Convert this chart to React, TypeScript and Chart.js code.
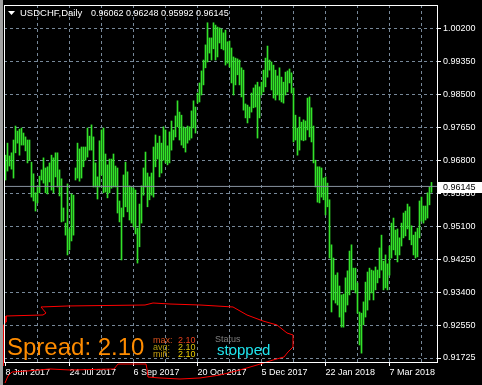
import { useEffect, useRef } from 'react';
import { Chart, registerables } from 'chart.js';

Chart.register(...registerables);

// ---- data ----
const symbolTitle = 'USDCHF,Daily';
const lastOpen = 0.96062;
const lastHigh = 0.96248;
const lastLow = 0.95992;
const lastClose = 0.96145;

// daily bar highs, oldest first (one per trading day)
const highs = [
  0.9695, 0.9726, 0.9693, 0.9701, 0.9734, 0.977, 0.9757, 0.9762, 0.9765, 0.9752,
  0.9742, 0.9734, 0.9734, 0.9677, 0.9647, 0.9598, 0.9616, 0.9641, 0.9657, 0.9688,
  0.9662, 0.9665, 0.9675, 0.9695, 0.9688, 0.9701, 0.9701, 0.9657, 0.9634, 0.9559,
  0.952, 0.9621, 0.9505, 0.9595, 0.9592, 0.9662, 0.9726, 0.9711, 0.9716, 0.9716,
  0.9716, 0.9765, 0.9744, 0.9773, 0.9742, 0.9675, 0.9639, 0.9732, 0.976, 0.9765,
  0.9698, 0.967, 0.9685, 0.9685, 0.9698, 0.9667, 0.9662, 0.9577, 0.9559, 0.9644,
  0.9677, 0.9652, 0.9616, 0.9613, 0.961, 0.9605, 0.9507, 0.9569, 0.9616, 0.9662,
  0.9703, 0.9649, 0.9639, 0.9649, 0.9716, 0.9747, 0.9726, 0.9744, 0.9726, 0.9768,
  0.976, 0.9719, 0.9755, 0.9783, 0.976, 0.9796, 0.9835, 0.9806, 0.9798, 0.9768,
  0.9765, 0.977, 0.9768, 0.9809, 0.9835, 0.9819, 0.9855, 0.9881, 0.9912, 0.994,
  0.9979, 1.0036, 0.9997, 0.9997, 1.0036, 1.003, 1.0025, 1.0023, 1.002, 1.001,
  1.0017, 0.9987, 0.9989, 0.9971, 0.9948, 0.9945, 0.9943, 0.994, 0.992, 0.9914,
  0.9827, 0.9824, 0.9819, 0.9855, 0.9868, 0.9876, 0.9883, 0.9871, 0.9883, 0.9914,
  0.9945, 0.9976, 0.994, 0.9935, 0.9927, 0.9914, 0.9899, 0.992, 0.9896, 0.9883,
  0.9909, 0.9912, 0.9917, 0.9907, 0.9868, 0.9798, 0.9765, 0.9793, 0.978, 0.9786,
  0.9783, 0.9842, 0.9845, 0.9817, 0.977, 0.9682, 0.9665, 0.9665, 0.9662, 0.9636,
  0.9639, 0.9623, 0.958, 0.9464, 0.943, 0.9386, 0.9392, 0.9358, 0.9335, 0.9337,
  0.9379, 0.9397, 0.9448, 0.9464, 0.9404, 0.9404, 0.9366, 0.9291, 0.9288, 0.9317,
  0.9368, 0.9394, 0.9404, 0.9399, 0.9397, 0.9407, 0.9399, 0.9456, 0.9489, 0.9422,
  0.9438, 0.9415, 0.9461, 0.952, 0.9533, 0.9502, 0.9505, 0.9482, 0.952, 0.9546,
  0.9551, 0.9569, 0.9562, 0.9513, 0.9489, 0.9497, 0.9507, 0.9577, 0.9587, 0.9564,
  0.9564, 0.9598, 0.9613, 0.96248,
];

// daily bar lows, oldest first
const lows = [
  0.9631, 0.9654, 0.9667, 0.9659, 0.9636, 0.9701, 0.9726, 0.9695, 0.9721, 0.9721,
  0.9706, 0.9675, 0.9682, 0.9587, 0.9577, 0.9551, 0.9572, 0.9598, 0.9631, 0.9623,
  0.9598, 0.9595, 0.9626, 0.9605, 0.9598, 0.9639, 0.9613, 0.959, 0.9523, 0.9525,
  0.9489, 0.9438, 0.9451, 0.9474, 0.9489, 0.9631, 0.9636, 0.9628, 0.9636, 0.9665,
  0.9682, 0.969, 0.9708, 0.9708, 0.9613, 0.9613, 0.9582, 0.9613, 0.9644, 0.9598,
  0.96, 0.9585, 0.9598, 0.961, 0.9613, 0.9613, 0.9546, 0.9523, 0.9425, 0.9536,
  0.9562, 0.9549, 0.9528, 0.952, 0.951, 0.9492, 0.9417, 0.9459, 0.952, 0.9592,
  0.9613, 0.9562, 0.958, 0.9592, 0.9587, 0.9665, 0.9685, 0.9639, 0.9649, 0.9682,
  0.9675, 0.967, 0.9675, 0.9708, 0.9734, 0.9742, 0.9768, 0.9734, 0.9721, 0.9714,
  0.9703, 0.9726, 0.9734, 0.9739, 0.9765, 0.9752, 0.9829, 0.9832, 0.985, 0.9876,
  0.992, 0.9935, 0.9958, 0.994, 0.9969, 0.994, 0.9948, 0.9984, 0.9969, 0.9966,
  0.9927, 0.9932, 0.9922, 0.9881, 0.985, 0.9876, 0.9902, 0.9876, 0.9845, 0.9811,
  0.9791, 0.9778, 0.9791, 0.9806, 0.9817, 0.9819, 0.9739, 0.9791, 0.985, 0.9858,
  0.9871, 0.9896, 0.9914, 0.9863, 0.9842, 0.9837, 0.985, 0.9837, 0.9832, 0.9829,
  0.985, 0.9858, 0.9881, 0.9855, 0.9729, 0.9734, 0.9695, 0.9708, 0.9734, 0.9732,
  0.9734, 0.976, 0.9742, 0.9729, 0.9675, 0.9613, 0.9574, 0.9572, 0.9587, 0.958,
  0.9541, 0.9562, 0.943, 0.9291, 0.9322, 0.9314, 0.9309, 0.9278, 0.9252, 0.9252,
  0.9291, 0.9309, 0.9335, 0.9348, 0.9348, 0.934, 0.9288, 0.9206, 0.9185, 0.9258,
  0.9278, 0.9296, 0.9322, 0.934, 0.9322, 0.9348, 0.9366, 0.9379, 0.9399, 0.9348,
  0.9353, 0.9348, 0.9386, 0.943, 0.9451, 0.9438, 0.942, 0.9438, 0.9461, 0.9482,
  0.9487, 0.9505, 0.9477, 0.9464, 0.9438, 0.943, 0.9433, 0.9482, 0.9525, 0.952,
  0.9528, 0.9533, 0.9567, 0.95992,
];

// price axis
const yTicks = [1.002, 0.9935, 0.985, 0.9765, 0.968, 0.9595, 0.951, 0.9425, 0.934, 0.9255, 0.91725];
const yMin = 0.91622;
const yMax = 1.00818;

// time axis (bar index of each grid line / label)
const xGridIndex = [0, 16, 32, 48, 64, 80, 96, 112, 128, 144, 160, 176, 192, 208];
const xLabelIndex = [0, 32, 64, 96, 128, 160, 192];
const xLabels = ['8 Jun 2017', '24 Jul 2017', '6 Sep 2017', '20 Oct 2017', '5 Dec 2017', '22 Jan 2018', '7 Mar 2018'];
const xMin = -0.75;
const xMax = 215.75;

// hand-drawn red outline (bar index, price)
const outlineX = [-0.25, 1.25, 3.25, 10.75, 22.25, 32.25, 54.25, 56.25, 70.25, 70.75, 71.25, 77.25, 87.25, 97.25, 107.25, 117.25, 125.75, 133.75, 139.25, 141.25, 143.75, 143.75, 140.75, 135.75, 128.75, 120.75, 113.75, 97.25, 82.25, 73.75, 69.75, 31.25, 17.75, 20.25, 18.75, 0.25, 0.25, -1.25, -1.25];
const outlineY = [0.91081, 0.91261, 0.91364, 0.9139, 0.91442, 0.91416, 0.91442, 0.9157, 0.9157, 0.91442, 0.91235, 0.9121, 0.91184, 0.9121, 0.91287, 0.91416, 0.91545, 0.91673, 0.91751, 0.9188, 0.92008, 0.92318, 0.92369, 0.92575, 0.92678, 0.92833, 0.93039, 0.9309, 0.93116, 0.93142, 0.9309, 0.93065, 0.93039, 0.92884, 0.92833, 0.92807, 0.92652, 0.92549, 0.91519];

// spread panel
const spreadValue = '2.10';
const spreadMax = '2.10';
const spreadAvg = '2.10';
const spreadMin = '2.10';
const spreadStatus = 'stopped';

const FONT = '"Liberation Sans", Arial, sans-serif';
const BAR_GREEN = '#33e22a';
const GRID = '#778899';

const mt4Plugin = {
  id: 'mt4',
  beforeDraw(chart: any) {
    const { ctx, width, height } = chart;
    ctx.save();
    ctx.fillStyle = '#000';
    ctx.fillRect(0, 0, width, height);
    ctx.restore();
  },
  afterDraw(chart: any) {
    const { ctx, chartArea } = chart;
    const { left, top, right, bottom } = chartArea;
    ctx.save();
    // window edge
    ctx.fillStyle = '#a0a0a0';
    ctx.fillRect(0, 0, 3, chart.height);
    // plot frame
    ctx.strokeStyle = '#ffffff';
    ctx.lineWidth = 1;
    ctx.strokeRect(left + 0.5, top + 0.5, right - left, bottom - top);

    // last price label
    const py = chart.scales.y.getPixelForValue(lastClose);
    ctx.fillStyle = '#ffffff';
    ctx.fillRect(right + 1, Math.round(py) - 4, chart.width - right - 1, 11);
    ctx.fillStyle = '#000000';
    ctx.font = `9px ${FONT}`;
    ctx.textBaseline = 'middle';
    ctx.textAlign = 'left';
    ctx.fillText(lastClose.toFixed(5), right + 6, Math.round(py) + 1.5);

    // title
    ctx.fillStyle = '#ffffff';
    ctx.beginPath();
    ctx.moveTo(8, 11);
    ctx.lineTo(15, 11);
    ctx.lineTo(11.5, 15);
    ctx.closePath();
    ctx.fill();
    ctx.textBaseline = 'alphabetic';
    ctx.font = `9.5px ${FONT}`;
    ctx.fillText(symbolTitle, 20, 16);
    ctx.font = `9px ${FONT}`;
    const ohlc = [lastOpen, lastHigh, lastLow, lastClose].map((v) => v.toFixed(5)).join(' ');
    ctx.fillText(ohlc, 91, 16);

    // spread panel
    ctx.font = `24px ${FONT}`;
    ctx.fillStyle = '#ff8c00';
    ctx.fillText(`Spread: ${spreadValue}`, 7, 355);

    ctx.font = `9px ${FONT}`;
    ctx.fillStyle = '#d8501c';
    ctx.fillText('max:', 153, 343);
    ctx.fillStyle = '#e8401c';
    ctx.fillText(spreadMax, 178, 343);
    ctx.fillStyle = '#b09a10';
    ctx.fillText('avg:', 153, 350);
    ctx.fillStyle = '#d8c010';
    ctx.fillText(spreadAvg, 178, 350);
    ctx.fillStyle = '#c8a010';
    ctx.fillText('min:', 153, 357);
    ctx.fillStyle = '#f0d000';
    ctx.fillText(spreadMin, 178, 357);

    ctx.fillStyle = '#808080';
    ctx.fillText('Status', 215, 342);
    ctx.font = `15px ${FONT}`;
    ctx.fillStyle = '#1ee6f0';
    ctx.fillText(spreadStatus, 217, 355);
    ctx.restore();
  },
};

export default function App() {
  const ref = useRef<HTMLCanvasElement>(null);

  useEffect(() => {
    document.body.style.margin = '0';
    document.body.style.background = '#000';
    const canvas = ref.current;
    if (!canvas) return;

    const bars = highs.map((h, i) => ({ x: i, y: [lows[i], h] }));
    const priceLine = [
      { x: xMin, y: lastClose },
      { x: xMax, y: lastClose },
    ];
    const outline = outlineX.map((x, i) => ({ x, y: outlineY[i] }));

    const chart = new Chart(canvas, {
      type: 'bar',
      data: {
        datasets: [
          {
            type: 'line',
            data: priceLine,
            borderColor: '#8893a0',
            borderWidth: 1,
            pointRadius: 0,
            tension: 0,
          } as any,
          {
            type: 'line',
            data: outline,
            borderColor: '#ff0000',
            borderWidth: 1,
            pointRadius: 0,
            tension: 0,
            clip: false,
          } as any,
          {
            type: 'bar',
            data: bars,
            backgroundColor: BAR_GREEN,
            borderWidth: 0,
            barThickness: 1,
          } as any,
        ],
      },
      options: {
        animation: false,
        responsive: false,
        devicePixelRatio: 1,
        events: [],
        layout: { padding: { left: 4, top: 5, right: 0, bottom: 0 } },
        plugins: { legend: { display: false }, tooltip: { enabled: false } },
        scales: {
          x: {
            type: 'linear',
            min: xMin,
            max: xMax,
            offset: false,
            afterBuildTicks: (s: any) => {
              s.ticks = xGridIndex.map((v) => ({ value: v }));
            },
            afterFit: (s: any) => {
              s.height = 23;
              s.paddingLeft = 0;
              s.paddingRight = 0;
            },
            grid: {
              offset: false,
              color: (c: any) => (c.tick && c.tick.value === 0 ? 'rgba(0,0,0,0)' : GRID),
              lineWidth: 1,
              drawTicks: true,
              tickLength: 4,
              tickColor: (c: any) =>
                c.tick && xLabelIndex.includes(c.tick.value) ? '#ffffff' : 'rgba(0,0,0,0)',
              borderDash: [3, 3],
            } as any,
            border: { display: false, dash: [3, 3] } as any,
            ticks: {
              autoSkip: false,
              maxRotation: 0,
              minRotation: 0,
              align: 'start',
              padding: 1,
              color: '#ffffff',
              font: { family: FONT, size: 9 },
              callback: (v: any) => {
                const k = xLabelIndex.indexOf(Number(v));
                return k >= 0 ? xLabels[k] : '';
              },
            },
          } as any,
          y: {
            type: 'linear',
            position: 'right',
            min: yMin,
            max: yMax,
            afterBuildTicks: (s: any) => {
              s.ticks = yTicks.map((v) => ({ value: v }));
            },
            afterFit: (s: any) => {
              s.width = 45;
              s.paddingTop = 0;
              s.paddingBottom = 0;
            },
            grid: {
              color: GRID,
              lineWidth: 1,
              tickLength: 4,
              tickColor: '#ffffff',
              borderDash: [3, 3],
            } as any,
            border: { display: false, dash: [3, 3] } as any,
            ticks: {
              padding: 2,
              color: '#ffffff',
              font: { family: FONT, size: 9 },
              callback: (v: any) => Number(v).toFixed(5),
            },
          } as any,
        },
      },
      plugins: [mt4Plugin],
    });

    return () => chart.destroy();
  }, []);

  return (
    <div style={{ width: 482, height: 385, background: '#000' }}>
      <canvas ref={ref} width={482} height={385} style={{ display: 'block' }} />
    </div>
  );
}
